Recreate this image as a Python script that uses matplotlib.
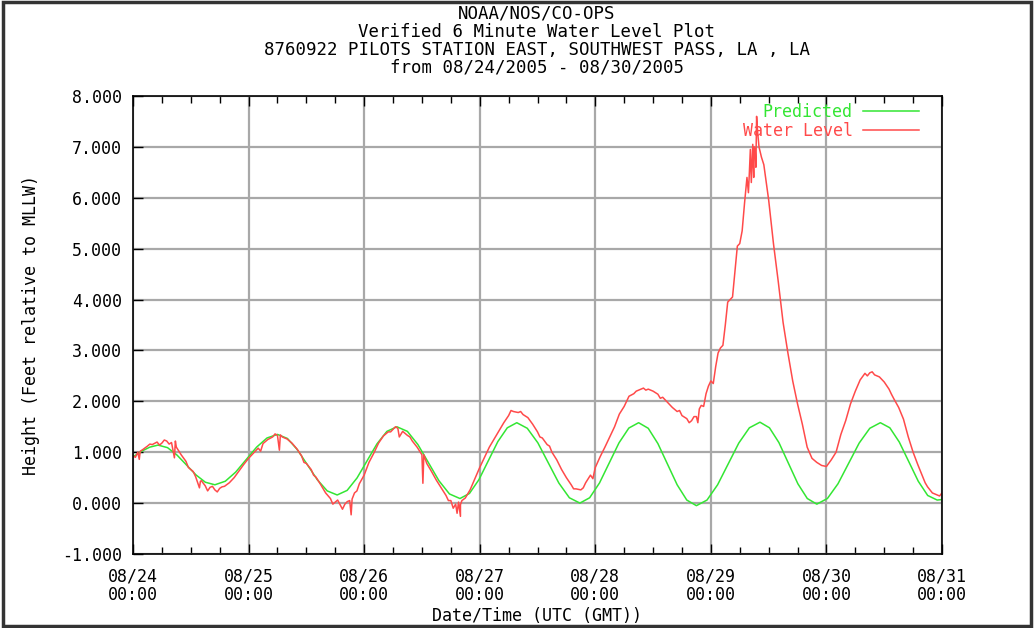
import matplotlib
matplotlib.use("Agg")
import matplotlib.pyplot as plt
import numpy as np

# hours since 08/24/2005 00:00 UTC
pred_hours = [0, 2, 3.5, 5.2, 7.17, 9.13, 11.1, 13.07, 15.03, 17.0,
              19.17, 21.33, 23.5, 25.67, 27.83, 30.0, 32.07, 34.13, 36.2, 38.27,
              40.33, 42.4, 44.47, 46.53, 48.6, 50.67, 52.73, 54.8, 56.98, 59.17,
              61.35, 63.53, 65.72, 67.9, 69.87, 71.83, 73.8, 75.77, 77.73, 79.7,
              81.88, 84.07, 86.25, 88.43, 90.62, 92.8, 94.83, 96.87, 98.9, 100.93,
              102.97, 105.0, 107.0, 109.0, 111.0, 113.0, 115.0, 117.0, 119.2, 121.4,
              123.6, 125.8, 128.0, 130.2, 132.17, 134.13, 136.1, 138.07, 140.03, 142.0,
              144.2, 146.4, 148.6, 150.8, 153.0, 155.2, 157.17, 159.13, 161.1, 163.07,
              165.03, 167.0, 168.0]
pred_level = [0.91, 1.03, 1.10, 1.14, 1.09, 0.945, 0.75, 0.555, 0.41, 0.36,
              0.43, 0.61, 0.855, 1.10, 1.28, 1.35, 1.27, 1.05, 0.755, 0.46,
              0.24, 0.16, 0.25, 0.495, 0.83, 1.165, 1.41, 1.50, 1.41, 1.15,
              0.795, 0.44, 0.18, 0.09, 0.19, 0.46, 0.835, 1.21, 1.48, 1.58,
              1.47, 1.185, 0.79, 0.395, 0.105, 0.0, 0.105, 0.395, 0.79, 1.185,
              1.475, 1.58, 1.47, 1.17, 0.765, 0.36, 0.06, -0.05, 0.06, 0.36,
              0.77, 1.18, 1.48, 1.59, 1.48, 1.19, 0.785, 0.38, 0.09, -0.02,
              0.09, 0.38, 0.78, 1.18, 1.47, 1.58, 1.48, 1.20, 0.815, 0.43,
              0.15, 0.06, 0.07]

# observed water level, hourly readings
wl_hourly = [0.93, 1.00, 1.05, 1.12, 1.15, 1.20, 1.18, 1.22, 1.19, 1.10,
             0.95, 0.82, 0.66, 0.52, 0.43, 0.34, 0.31, 0.26, 0.29, 0.33,
             0.40, 0.50, 0.63, 0.76, 0.88, 0.98, 1.08, 1.17, 1.25, 1.30,
             1.33, 1.30, 1.26, 1.18, 1.07, 0.93, 0.78, 0.66, 0.51, 0.36,
             0.20, 0.09, 0.02, -0.03, -0.02, 0.05, 0.20, 0.38, 0.55, 0.80,
             0.98, 1.18, 1.32, 1.40, 1.45, 1.47, 1.41, 1.33, 1.22, 1.10,
             0.95, 0.78, 0.62, 0.45, 0.30, 0.15, 0.05, -0.02, -0.03, 0.10,
             0.26, 0.48, 0.70, 0.90, 1.10, 1.26, 1.42, 1.58, 1.72, 1.80,
             1.78, 1.74, 1.68, 1.55, 1.40, 1.28, 1.15, 1.00, 0.85, 0.66,
             0.50, 0.36, 0.28, 0.26, 0.40, 0.55, 0.70, 0.91, 1.10, 1.30,
             1.50, 1.75, 1.90, 2.10, 2.15, 2.22, 2.26, 2.24, 2.20, 2.14,
             2.08, 1.98, 1.88, 1.80, 1.72, 1.66, 1.62, 1.70, 1.92, 2.15,
             2.40, 2.68, 3.05, 3.50, 4.00, 4.55, 5.10, 5.90, 6.50, 7.00,
             7.00, 6.65, 5.96, 5.10, 4.35, 3.55, 2.95, 2.40, 1.95, 1.55,
             1.10, 0.88, 0.80, 0.74, 0.72, 0.85, 1.00, 1.35, 1.62, 1.95,
             2.20, 2.42, 2.55, 2.56, 2.52, 2.48, 2.38, 2.24, 2.05, 1.88,
             1.65, 1.30, 1.00, 0.75, 0.52, 0.32, 0.20, 0.16, 0.20]

# short spikes / in-between readings (hour, value)
wl_extra = [(0.5, 0.90), (1.3, 0.86), (1.5, 1.02), (3.5, 1.16), (5.5, 1.14),
            (6.5, 1.24), (7.5, 1.16), (8.6, 0.89), (8.8, 1.22), (11.5, 0.70),
            (12.5, 0.62), (13.8, 0.30), (14.2, 0.44), (15.5, 0.24), (16.5, 0.33),
            (17.5, 0.22), (18.5, 0.32), (26.5, 1.02), (29.5, 1.36), (30.4, 1.04),
            (30.6, 1.34), (35.5, 0.80), (37.5, 0.55), (41.5, -0.02), (42.5, 0.06),
            (43.5, -0.12), (44.5, 0.03), (45.3, -0.23), (45.5, 0.08), (46.5, 0.24),
            (53.5, 1.40), (54.5, 1.50), (55.3, 1.30), (57.5, 1.30), (60.2, 0.39),
            (60.4, 0.95), (65.5, 0.05), (66.5, -0.10), (67.3, -0.20), (67.6, 0.02),
            (68.0, -0.26), (68.3, 0.05), (78.5, 1.82), (80.5, 1.80), (84.5, 1.30),
            (86.5, 1.12), (91.5, 0.28), (93.5, 0.30), (95.5, 0.48), (104.5, 2.20),
            (106.5, 2.22), (109.5, 2.06), (113.5, 1.82), (115.5, 1.58), (116.5, 1.70),
            (117.3, 1.58), (117.6, 1.85), (118.5, 1.90), (119.5, 2.30), (120.5, 2.35),
            (121.5, 2.95), (122.5, 3.10), (123.5, 3.95), (124.5, 4.05), (125.5, 5.05),
            (126.5, 5.35), (127.5, 6.40), (127.8, 6.10), (128.2, 6.95), (128.4, 6.30),
            (128.7, 7.05), (128.9, 6.40), (129.2, 6.95), (129.35, 6.60), (129.5, 7.60),
            (129.7, 7.30), (130.5, 6.80), (152.5, 2.50), (153.5, 2.58), (157.5, 2.14),
            (164.5, 0.40), (167.5, 0.14)]

day_labels = ["08/24\n00:00", "08/25\n00:00", "08/26\n00:00", "08/27\n00:00",
              "08/28\n00:00", "08/29\n00:00", "08/30\n00:00", "08/31\n00:00"]
title_lines = ["NOAA/NOS/CO-OPS",
               "Verified 6 Minute Water Level Plot",
               "8760922 PILOTS STATION EAST, SOUTHWEST PASS, LA , LA",
               "from 08/24/2005 - 08/30/2005"]

pts = [(float(h), v) for h, v in enumerate(wl_hourly)] + wl_extra
pts.sort()
wl_hours = [p[0] for p in pts]
wl_level = [p[1] for p in pts]

plt.rcParams["font.family"] = "DejaVu Sans Mono"

fig = plt.figure(figsize=(10.34, 6.28), dpi=100)
ax = fig.add_axes([133 / 1034, 74 / 628, 809 / 1034, 458 / 628])

ax.plot(pred_hours, pred_level, color="#33e633", lw=1.1, label="Predicted")
ax.plot(wl_hours, wl_level, color="#ff4a4a", lw=1.1, label="Water Level")

ax.set_xlim(0, 168)
ax.set_ylim(-1, 8)
ax.set_xticks(np.arange(0, 169, 24))
ax.set_xticklabels(day_labels, fontsize=12, linespacing=1.0)
ax.set_xticks(np.arange(0, 169, 6), minor=True)
ax.set_yticks(np.arange(-1, 9, 1))
ax.set_yticklabels(["%.3f" % v for v in np.arange(-1, 9, 1)], fontsize=12)
ax.tick_params(which="both", direction="in", top=True, right=False, color="black")
ax.tick_params(which="major", length=7, width=1)
ax.tick_params(axis="x", which="major", pad=10)
ax.tick_params(axis="y", which="major", pad=8)
ax.tick_params(which="minor", length=5, width=1)
ax.grid(True, which="major", color="#a8a8a8", lw=1.6)
for s in ax.spines.values():
    s.set_linewidth(1.2)

ax.set_ylabel("Height (Feet relative to MLLW)", fontsize=12, labelpad=16)
fig.text(537 / 1034, 1 - 616 / 628, "Date/Time (UTC (GMT))", ha="center", va="center",
         fontsize=12)

ax.legend(loc="upper right", bbox_to_anchor=(0.972, 0.985), frameon=False,
          markerfirst=False, labelcolor="linecolor", fontsize=12,
          handlelength=3.4, handletextpad=0.6, borderpad=0, borderaxespad=0,
          labelspacing=0.08)

for i, line in enumerate(title_lines):
    fig.text(537 / 1034, 1 - (14 + 18 * i) / 628, line, ha="center", va="center",
             fontsize=12.5)

fig.patches.append(plt.Rectangle((0.003, 0.003), 0.994, 0.994, transform=fig.transFigure,
                                 fill=False, edgecolor="#333333", lw=2.5))

fig.savefig("out.png", dpi=100)
plt.close(fig)
